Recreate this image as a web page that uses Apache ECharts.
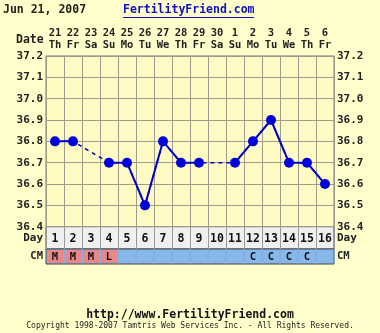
<!DOCTYPE html>
<html><head><meta charset="utf-8">
<script src="https://cdn.jsdelivr.net/npm/echarts@6/dist/echarts.min.js"></script>
<style>html,body{margin:0;padding:0;background:#ffffcc;}#c{width:380px;height:333px;}</style>
</head><body><div id="c"></div>
<script>
const dayNums = ['1','2','3','4','5','6','7','8','9','10','11','12','13','14','15','16'];
const dates = ['21','22','23','24','25','26','27','28','29','30','1','2','3','4','5','6'];
const weekdays = ['Th','Fr','Sa','Su','Mo','Tu','We','Th','Fr','Sa','Su','Mo','Tu','We','Th','Fr'];
const temps = [36.8, 36.8, null, 36.7, 36.7, 36.5, 36.8, 36.7, 36.7, null, 36.7, 36.8, 36.9, 36.7, 36.7, 36.6];
const cm = ['M','M','M','L','','','','','','','','C','C','C','C',''];
const cmPink = ['M','L'];
const yMin = 36.4, yMax = 37.2, yStep = 0.1;

const FONT = '"DejaVu Sans Mono", monospace';
const chart = echarts.init(document.getElementById('c'), null, {renderer:'canvas'});
const L = 46, W = 288;
const lbl = {fontFamily: FONT, fontWeight: 'bold', fontSize: 11, color: '#222'};

function cellSeries(xi, yi, kind) {
  return {
    type: 'custom', xAxisIndex: xi, yAxisIndex: yi, silent: true,
    data: dayNums.map((d, i) => [i, 0]),
    renderItem: function (params, api) {
      const c = api.coord([api.value(0), 0]);
      const s = api.size([1, 1]);
      const txt = kind === 'day' ? dayNums[params.dataIndex] : cm[params.dataIndex];
      const children = [];
      if (kind === 'cm') {
        children.push({type: 'line', shape: {x1: c[0] + s[0] / 2, y1: c[1] - s[1] / 2, x2: c[0] + s[0] / 2, y2: c[1] + s[1] / 2}, style: {stroke: '#7aa8d8', lineWidth: 1}});
        if (cmPink.indexOf(txt) >= 0) {
          children.push({type: 'rect', shape: {x: c[0] - s[0] / 2 + 1, y: c[1] - s[1] / 2 + 1, width: s[0] - 2, height: s[1] - 2}, style: {fill: '#e88888'}});
        }
      }
      if (txt) {
        children.push({type: 'text', style: {text: txt, x: c[0], y: c[1] + 1, align: 'center', verticalAlign: 'middle', font: (kind === 'day' ? 'bold 11.5px ' : 'bold 10.5px ') + FONT, fill: '#111'}});
      }
      return {type: 'group', children: children};
    }
  };
}

chart.setOption({
  backgroundColor: '#ffffcc',
  animation: false,
  grid: [
    {left: L, top: 56, width: W, height: 170.7, show: true, backgroundColor: '#fffbc2', borderColor: '#777', borderWidth: 1},
    {left: L, top: 226.7, width: W, height: 22.3, show: true, backgroundColor: '#f0f0ee', borderColor: '#444', borderWidth: 1},
    {left: L, top: 249, width: W, height: 15, show: true, backgroundColor: '#88b8ea', borderColor: '#444', borderWidth: 1}
  ],
  xAxis: [
    {gridIndex: 0, type: 'category', data: dayNums, boundaryGap: true, axisLine: {show: false}, axisTick: {show: false}, axisLabel: {show: false},
     splitLine: {show: true, interval: 0, lineStyle: {color: '#a09c8c', width: 1}}},
    {gridIndex: 0, type: 'category', position: 'top', data: dates, boundaryGap: true, axisLine: {show: false}, axisTick: {show: false},
     splitLine: {show: false},
     axisLabel: {interval: 0, margin: 5, formatter: (v, i) => v + '\n' + weekdays[i], fontFamily: FONT, fontWeight: 'bold', fontSize: 10.5, lineHeight: 12, color: '#222'}},
    {gridIndex: 1, type: 'category', data: dayNums, boundaryGap: true, axisLine: {show: false}, axisTick: {show: false}, axisLabel: {show: false},
     splitLine: {show: true, interval: 0, lineStyle: {color: '#999', width: 1}}},
    {gridIndex: 2, type: 'category', data: dayNums, boundaryGap: true, axisLine: {show: false}, axisTick: {show: false}, axisLabel: {show: false}, splitLine: {show: false}}
  ],
  yAxis: [
    {gridIndex: 0, type: 'value', min: yMin, max: yMax, interval: yStep, axisLine: {show: false}, axisTick: {show: false},
     axisLabel: Object.assign({formatter: v => v.toFixed(1), margin: 3}, lbl),
     splitLine: {show: true, lineStyle: {color: '#a09c8c', width: 1}}},
    {gridIndex: 0, type: 'value', position: 'right', min: yMin, max: yMax, interval: yStep, axisLine: {show: false}, axisTick: {show: false},
     axisLabel: Object.assign({formatter: v => v.toFixed(1), margin: 3}, lbl), splitLine: {show: false}},
    {gridIndex: 1, type: 'category', data: ['Day'], axisLine: {show: false}, axisTick: {show: false}, axisLabel: Object.assign({margin: 3}, lbl), splitLine: {show: false}},
    {gridIndex: 1, type: 'category', position: 'right', data: ['Day'], axisLine: {show: false}, axisTick: {show: false}, axisLabel: Object.assign({margin: 3}, lbl), splitLine: {show: false}},
    {gridIndex: 2, type: 'category', data: ['CM'], axisLine: {show: false}, axisTick: {show: false}, axisLabel: Object.assign({margin: 3}, lbl, {fontSize: 10.5}), splitLine: {show: false}},
    {gridIndex: 2, type: 'category', position: 'right', data: ['CM'], axisLine: {show: false}, axisTick: {show: false}, axisLabel: Object.assign({margin: 3}, lbl, {fontSize: 10.5}), splitLine: {show: false}}
  ],
  series: [
    {type: 'line', xAxisIndex: 0, yAxisIndex: 0, data: temps, connectNulls: true, showSymbol: false, symbol: 'none',
     lineStyle: {color: '#0000cc', width: 1.5, type: [4, 4]}, silent: true, z: 2},
    {type: 'line', xAxisIndex: 0, yAxisIndex: 0, data: temps, connectNulls: false, symbol: 'circle', symbolSize: 10,
     itemStyle: {color: '#0000dd'}, lineStyle: {color: '#0000cc', width: 2}, silent: true, z: 3},
    cellSeries(2, 2, 'day'),
    cellSeries(3, 4, 'cm')
  ],
  graphic: [
    {type: 'text', left: 3, top: 4, style: {text: 'Jun 21, 2007', font: 'bold 11.5px ' + FONT, fill: '#222'}},
    {type: 'text', left: 123, top: 4, style: {text: 'FertilityFriend.com', font: 'bold 11.5px ' + FONT, fill: '#1010c0'}},
    {type: 'line', shape: {x1: 123, y1: 17.5, x2: 254, y2: 17.5}, style: {stroke: '#1010c0', lineWidth: 1}},
    {type: 'text', left: 16, top: 34, style: {text: 'Date', font: 'bold 11.5px ' + FONT, fill: '#222'}},
    {type: 'text', left: 'center', top: 309, style: {text: 'http://www.FertilityFriend.com', font: 'bold 11.5px ' + FONT, fill: '#111'}},
    {type: 'text', left: 'center', top: 322, style: {text: 'Copyright 1998-2007 Tamtris Web Services Inc. - All Rights Reserved.', font: '8px ' + FONT, fill: '#222'}}
  ]
});
</script></body></html>
